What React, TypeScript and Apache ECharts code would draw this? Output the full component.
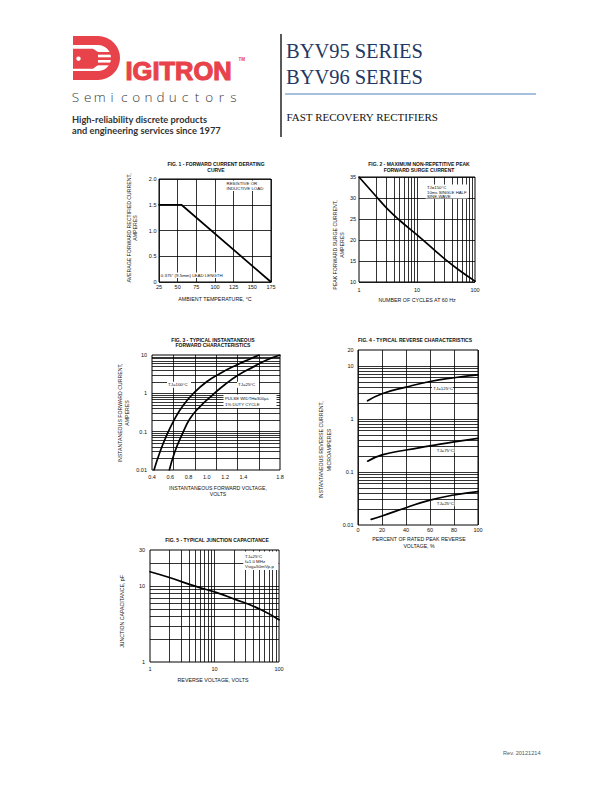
import React, { useEffect, useRef } from 'react';
import * as echarts from 'echarts';

// ---------- data ----------
const fig1Temp = [25, 55, 175];
const fig1Amps = [1.5, 1.5, 0];

const fig2Cycles = [1, 2, 3, 5, 10, 20, 30, 50, 100];
const fig2Amps = [35, 30.3, 27.6, 24.7, 21.2, 17.6, 15.5, 13.1, 10.2];

const fig3Volt100 = [0.422, 0.488, 0.56, 0.65, 0.742, 0.852, 0.998, 1.144, 1.326, 1.472, 1.57];
const fig3Amp100 = [0.01, 0.03, 0.08, 0.22, 0.49, 0.99, 2.0, 3.3, 5.5, 7.9, 10];
const fig3Volt25 = [0.59, 0.65, 0.725, 0.816, 0.925, 1.05, 1.198, 1.344, 1.508, 1.654, 1.8];
const fig3Amp25 = [0.01, 0.03, 0.08, 0.22, 0.45, 0.85, 1.7, 3.0, 4.9, 7.4, 10];
const fig3VoltGrid = [0.633, 0.867, 1.1, 1.333, 1.567];
const fig3VoltLabels = [0.4, 0.6, 0.8, 1.0, 1.2, 1.4, 1.8];

const fig4Pct = [8, 20, 40, 60, 80, 100];
const fig4Cur125 = [2.2, 3.0, 4.0, 5.1, 6.0, 6.8];
const fig4Cur75 = [0.16, 0.21, 0.26, 0.31, 0.37, 0.43];
const fig4Pct25 = [11, 20, 40, 60, 80, 100];
const fig4Cur25 = [0.0128, 0.0148, 0.0212, 0.0295, 0.0368, 0.0425];

const fig5Volts = [1, 2, 5, 10, 20, 50, 100];
const fig5Cap = [15.5, 13, 10, 8.4, 6.8, 5.0, 3.6];

// ---------- helpers ----------
const zip = (xs: number[], ys: number[]) => xs.map((x, i) => [x, ys[i]]);

const logGrid = (min: number, max: number) => {
  const out: number[] = [];
  for (let e = -3; e <= 3; e++) {
    for (let k = 1; k <= 9; k++) {
      const v = +(k * Math.pow(10, e)).toPrecision(3);
      if (v > min * 1.0001 && v < max / 1.0001) out.push(v);
    }
  }
  return out;
};

const RED = '#e8424b';
const NAVY = '#1f3864';
const SANS = 'Liberation Sans';
const SERIF = 'Liberation Serif';

function t(x: number, y: number, text: string, o: any = {}) {
  const {
    size = 5.2, weight = 'normal', family = SANS, color = '#111', align = 'left',
    vAlign = 'middle', lh, rot = 0, sx = 1, z = 50, stroke, lw,
  } = o;
  const style: any = {
    text, fontSize: size, fontWeight: weight, fontFamily: family, fill: color,
    align, verticalAlign: vAlign, textAlign: align, textVerticalAlign: vAlign,
    lineHeight: lh || size * 1.2,
  };
  if (stroke) { style.stroke = stroke; style.lineWidth = lw || 0.5; }
  return { type: 'text', x, y, rotation: rot, scaleX: sx, z, silent: true, style };
}
function box(x: number, y: number, w: number, h: number) {
  return { type: 'rect', shape: { x, y, width: w, height: h }, style: { fill: '#fff' }, z: 40, silent: true };
}
function rect(x: number, y: number, w: number, h: number, fill: string) {
  return { type: 'rect', shape: { x, y, width: w, height: h }, style: { fill }, z: 30, silent: true };
}

const labelStyle = { fontFamily: SANS, fontSize: 5.5, color: '#111' };
const gridLineStyle = { color: '#000', width: 0.8, type: 'solid' as const };

const gridMarks = (h: number[], v: number[]) => ({
  silent: true,
  symbol: ['none', 'none'],
  label: { show: false },
  emphasis: { disabled: true },
  lineStyle: gridLineStyle,
  animation: false,
  z: 1,
  data: [...h.map((y) => ({ yAxis: y })), ...v.map((x) => ({ xAxis: x }))],
});

const curve = (gi: number, data: number[][], extra: any = {}) => ({
  type: 'line', xAxisIndex: gi, yAxisIndex: gi, data, showSymbol: false, symbol: 'none',
  smooth: true, silent: true, z: 5,
  lineStyle: { color: '#000', width: 1.7, cap: 'round', join: 'round' }, ...extra,
});

const baseAxis = (gi: number, extra: any) => ({
  gridIndex: gi,
  axisLine: { show: false },
  axisTick: { show: false },
  splitLine: { show: false },
  ...extra,
});

const fmtNum = (v: number) => String(+(+v).toPrecision(4));

export default function App() {
  const ref = useRef<HTMLDivElement>(null);
  useEffect(() => {
    if (!ref.current) return;
    const chart = echarts.init(ref.current, undefined, { renderer: 'svg' });

    const grids = [
      { left: 159, top: 179, width: 112, height: 103 },
      { left: 359, top: 177, width: 116, height: 105 },
      { left: 152, top: 355, width: 128, height: 115 },
      { left: 358, top: 350, width: 120, height: 175 },
      { left: 150, top: 550, width: 129, height: 112 },
    ].map((g) => ({ ...g, show: true, borderColor: '#000', borderWidth: 1, outerBoundsMode: 'none' }));

    const xAxis = [
      baseAxis(0, { type: 'value', min: 25, max: 175, interval: 25,
        splitLine: { show: true, lineStyle: gridLineStyle },
        axisLabel: { ...labelStyle, margin: 2 } }),
      baseAxis(1, { type: 'log', logBase: 10, min: 1, max: 100,
        axisLabel: { ...labelStyle, margin: 5, formatter: fmtNum } }),
      baseAxis(2, { type: 'value', min: 0.4, max: 1.8,
        axisLabel: { ...labelStyle, margin: 4, customValues: fig3VoltLabels, formatter: (v: number) => (+v).toFixed(1) } }),
      baseAxis(3, { type: 'value', min: 0, max: 100, interval: 20,
        splitLine: { show: true, lineStyle: gridLineStyle },
        axisLabel: { ...labelStyle, margin: 2 } }),
      baseAxis(4, { type: 'log', logBase: 10, min: 1, max: 100,
        axisLabel: { ...labelStyle, margin: 3.5, formatter: fmtNum } }),
    ];
    const yAxis = [
      baseAxis(0, { type: 'value', min: 0, max: 2, interval: 0.5,
        splitLine: { show: true, lineStyle: gridLineStyle },
        axisLabel: { ...labelStyle, margin: 2.5, formatter: (v: number) => (v === 0 ? '0' : (+v).toFixed(1)) } }),
      baseAxis(1, { type: 'value', min: 10, max: 35, interval: 5,
        splitLine: { show: true, lineStyle: gridLineStyle },
        axisLabel: { ...labelStyle, margin: 3 } }),
      baseAxis(2, { type: 'log', logBase: 10, min: 0.01, max: 10,
        axisLabel: { ...labelStyle, margin: 5, formatter: fmtNum } }),
      baseAxis(3, { type: 'log', logBase: 10, min: 0.01, max: 20,
        axisLabel: { ...labelStyle, margin: 4.5, formatter: fmtNum } }),
      baseAxis(4, { type: 'log', logBase: 10, min: 1, max: 30,
        axisLabel: { ...labelStyle, margin: 5, formatter: fmtNum } }),
    ];

    // grid-line carriers (empty data, only markLines), then the curves on top
    const gridSeries = (gi: number, h: number[], v: number[]) => ({
      type: 'line', xAxisIndex: gi, yAxisIndex: gi, data: [], silent: true, z: 1,
      symbol: 'none', lineStyle: { width: 0 }, markLine: gridMarks(h, v),
    });

    const series: any[] = [
      gridSeries(1, [], logGrid(1, 100)),
      gridSeries(2, logGrid(0.01, 10), fig3VoltGrid),
      gridSeries(3, logGrid(0.01, 20), []),
      gridSeries(4, logGrid(1, 30), logGrid(1, 100)),
      curve(0, zip(fig1Temp, fig1Amps), { smooth: false }),
      curve(1, zip(fig2Cycles, fig2Amps)),
      curve(2, zip(fig3Volt100, fig3Amp100)),
      curve(2, zip(fig3Volt25, fig3Amp25)),
      curve(3, zip(fig4Pct, fig4Cur125)),
      curve(3, zip(fig4Pct, fig4Cur75)),
      curve(3, zip(fig4Pct25, fig4Cur25)),
      curve(4, zip(fig5Volts, fig5Cap)),
    ];

    const semi = 'Semiconductors'.split('');
    const ann = 4.4;
    const titleS = { size: 5, weight: 'bold', align: 'center' };
    const nameS = { size: 5.2, align: 'center' };
    const tagS = { size: 9.3, family: 'Lato', weight: 'bold', color: '#333', lh: 10 };

    const graphic: any[] = [
      // ---------- header logo ----------
      rect(73, 36, 25.5, 9, RED),
      rect(73, 71, 25.5, 9, RED),
      { type: 'sector', silent: true, z: 30,
        shape: { cx: 98, cy: 58, r: 22, r0: 13, startAngle: -Math.PI / 2, endAngle: Math.PI / 2, clockwise: true },
        style: { fill: RED } },
      { type: 'polygon', silent: true, z: 30,
        shape: { points: [[73, 48.7], [93, 48.7], [98, 52], [98, 65], [93, 68.7], [73, 68.7]] },
        style: { fill: RED } },
      rect(96, 52, 17, 2.7, RED),
      rect(96, 57.3, 17, 2.7, RED),
      rect(96, 62.6, 17, 2.7, RED),
      { type: 'circle', silent: true, z: 31, shape: { cx: 78.5, cy: 58.7, r: 2.2 }, style: { fill: '#fff' } },
      t(125.5, 70.8, 'IGITRON', { size: 25, weight: 'bold', color: RED, stroke: RED, lw: 1.1, sx: 1.02 }),
      t(238.5, 59.5, 'TM', { size: 4.5, weight: 'bold', color: RED }),
      ...semi.map((c, i) => t(75.5 + i * 12.15, 96.6, c, { size: 13.5, family: 'Open Sans', weight: 300, color: '#3a3a3a', align: 'center' })),
      t(72, 119.7, 'High-reliability discrete products', tagS),
      t(72, 130.9, 'and engineering services since 1977', tagS),
      { type: 'line', silent: true, z: 30, shape: { x1: 281, y1: 34, x2: 281, y2: 137 }, style: { stroke: '#000', lineWidth: 1.3 } },
      t(286, 50.9, 'BYV95 SERIES', { size: 22, family: SERIF, color: NAVY, sx: 0.93 }),
      t(286, 76.6, 'BYV96 SERIES', { size: 22, family: SERIF, color: NAVY, sx: 0.93 }),
      { type: 'line', silent: true, z: 30, shape: { x1: 285, y1: 94, x2: 536, y2: 94 }, style: { stroke: '#4f81bd', lineWidth: 1.2 } },
      t(286.5, 117, 'FAST RECOVERY RECTIFIERS', { size: 11, family: SERIF, color: '#111' }),
      t(503, 753, 'Rev. 20121214', { size: 5.6, color: '#555' }),

      // ---------- Fig 1 ----------
      t(216, 164.3, 'FIG. 1 - FORWARD CURRENT DERATING', titleS),
      t(216, 169.5, 'CURVE', titleS),
      t(131.8, 228, 'AVERAGE FORWARD RECTIFIED CURRENT,\nAMPERES', { ...nameS, lh: 6.5, rot: Math.PI / 2 }),
      t(215, 299, 'AMBIENT TEMPERATURE, °C', { ...nameS, size: 5.3 }),
      box(225, 180.5, 42, 10.5),
      t(226.5, 183.3, 'RESISTIVE OR', { size: ann }),
      t(226.5, 188.3, 'INDUCTIVE LOAD', { size: ann }),
      box(160, 272.5, 72, 5.5),
      t(160.8, 275.3, '0.375" (9.5mm) LEAD LENGTH', { size: ann }),

      // ---------- Fig 2 ----------
      t(419, 164.3, 'FIG. 2 - MAXIMUM NON-REPETITIVE PEAK', titleS),
      t(419, 169.5, 'FORWARD SURGE CURRENT', titleS),
      t(338.8, 245, 'PEAK FORWARD SURGE CURRENT,\nAMPERES', { ...nameS, lh: 7, rot: Math.PI / 2 }),
      t(417, 300, 'NUMBER OF CYCLES AT 60 Hz', { ...nameS, size: 5.3 }),
      box(425.5, 184.5, 42, 14),
      t(427, 187.8, 'TJ=150°C', { size: 4.3 }),
      t(427, 192.2, '10ms SINGLE HALF', { size: 4.3 }),
      t(427, 196.6, 'SINE-WAVE', { size: 4.3 }),

      // ---------- Fig 3 ----------
      t(213, 340, 'FIG. 3 - TYPICAL INSTANTANEOUS', titleS),
      t(213, 345.3, 'FORWARD CHARACTERISTICS', titleS),
      t(123.3, 413, 'INSTANTANEOUS FORWARD CURRENT,\nAMPERES', { ...nameS, lh: 6.7, rot: Math.PI / 2 }),
      t(218, 488.3, 'INSTANTANEOUS FORWARD VOLTAGE,', nameS),
      t(218, 494.3, 'VOLTS', nameS),
      box(167, 381.8, 24, 6),
      t(168, 384.8, 'TJ=100°C', { size: ann }),
      box(237, 381.8, 22, 6),
      t(238, 384.8, 'TJ=25°C', { size: ann }),
      box(223.5, 394.5, 53, 13.5),
      t(225, 398, 'PULSE WIDTH=300µs', { size: 4.3 }),
      t(225, 404.5, '1% DUTY CYCLE', { size: 4.3 }),

      // ---------- Fig 4 ----------
      t(415, 340, 'FIG. 4 - TYPICAL REVERSE CHARACTERISTICS', titleS),
      t(324.5, 450, 'INSTANTANEOUS REVERSE CURRENT,\nMICROAMPERES', { ...nameS, lh: 8, rot: Math.PI / 2 }),
      t(419, 539, 'PERCENT OF RATED PEAK REVERSE', nameS),
      t(419, 546, 'VOLTAGE, %', nameS),
      box(432, 385, 21, 6),
      t(433.3, 388.2, 'TJ=125°C', { size: ann }),
      box(435.5, 447, 19, 6),
      t(436.7, 450, 'TJ=75°C', { size: ann }),
      box(435.5, 500.3, 19, 6),
      t(436.7, 503.3, 'TJ=25°C', { size: ann }),

      // ---------- Fig 5 ----------
      t(217, 540, 'FIG. 5 - TYPICAL JUNCTION CAPACITANCE', titleS),
      t(121.7, 611.5, 'JUNCTION CAPACITANCE, pF', { ...nameS, rot: Math.PI / 2 }),
      t(213, 680, 'REVERSE VOLTAGE, VOLTS', { ...nameS, size: 5.3 }),
      box(243.3, 551.5, 35, 18.5),
      t(245, 556.5, 'TJ=25°C', { size: ann }),
      t(245, 561.5, 'f=1.0 MHz', { size: ann }),
      t(245, 566.5, 'Vsig=50mVp-p', { size: ann }),
    ];

    chart.setOption({
      animation: false,
      backgroundColor: '#fff',
      textStyle: { fontFamily: SANS },
      grid: grids,
      xAxis,
      yAxis,
      series,
      graphic,
    });
    return () => chart.dispose();
  }, []);

  return (
    <div
      ref={ref}
      style={{ position: 'absolute', left: 0, top: 0, width: 612, height: 792, background: '#fff' }}
    />
  );
}
